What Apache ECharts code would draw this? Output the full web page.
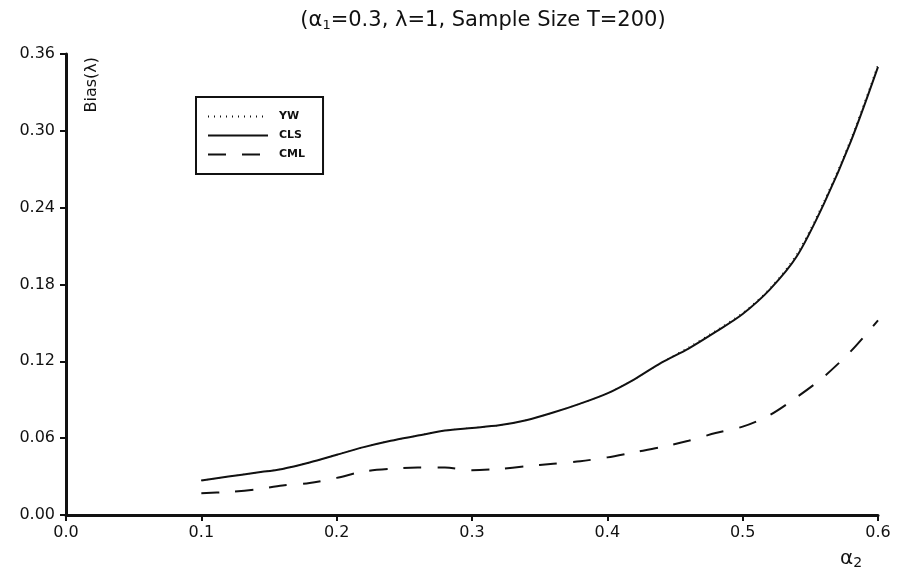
<!DOCTYPE html>
<html>
<head>
<meta charset="utf-8">
<script src="https://cdn.jsdelivr.net/npm/echarts@6/dist/echarts.min.js"></script>
<style>
  html, body { margin: 0; padding: 0; background: #fff; }
  #chart { width: 899px; height: 576px; }
</style>
</head>
<body>
<div id="chart"></div>
<script>
  // alpha_2 grid where the curves were read
  var alpha2 = [0.10, 0.12, 0.14, 0.16, 0.18, 0.20, 0.22, 0.24, 0.26, 0.28, 0.30, 0.32, 0.34,
                0.36, 0.38, 0.40, 0.42, 0.44, 0.46, 0.48, 0.50, 0.52, 0.54, 0.56, 0.58, 0.60]
  var ywBias  = [0.027, 0.030, 0.033, 0.036, 0.041, 0.047, 0.053, 0.058, 0.062, 0.066, 0.068, 0.070, 0.074,
                 0.080, 0.087, 0.095, 0.106, 0.119, 0.131, 0.144, 0.158, 0.177, 0.204, 0.245, 0.294, 0.352]
  var clsBias = [0.027, 0.030, 0.033, 0.036, 0.041, 0.047, 0.053, 0.058, 0.062, 0.066, 0.068, 0.070, 0.074,
                 0.080, 0.087, 0.095, 0.106, 0.119, 0.130, 0.143, 0.157, 0.176, 0.202, 0.243, 0.292, 0.350]
  var cmlBias = [0.017, 0.018, 0.020, 0.023, 0.025, 0.029, 0.034, 0.036, 0.037, 0.037, 0.035, 0.036, 0.038,
                 0.040, 0.042, 0.045, 0.049, 0.053, 0.058, 0.064, 0.069, 0.078, 0.092, 0.108, 0.128, 0.152]
  var xTicks = ['0.0', '0.1', '0.2', '0.3', '0.4', '0.5', '0.6']
  var yTicks = ['0.00', '0.06', '0.12', '0.18', '0.24', '0.30', '0.36']

  function pairs(ys) {
    return alpha2.map(function (x, i) { return [x, ys[i]] })
  }

  var font = 'DejaVu Sans'
  var chart = echarts.init(document.getElementById('chart'))

  var option = {
    backgroundColor: '#fff',
    animation: false,
    title: {
      text: '{t|(α}{s|1}{t|=0.3, λ=1, Sample Size T=200)}',
      left: 478,
      top: 5,
      textAlign: 'center',
      textStyle: {
        rich: {
          t: { fontFamily: font, fontSize: 21, color: '#111', fontWeight: 'normal' },
          s: { fontFamily: font, fontSize: 13, color: '#111', fontWeight: 'normal', padding: [9, 0, 0, 0] }
        }
      }
    },
    legend: {
      orient: 'vertical',
      left: 196,
      top: 97,
      padding: [14, 18, 14, 11],
      itemGap: 8,
      itemWidth: 60,
      itemHeight: 10,
      borderColor: '#111',
      borderWidth: 2,
      itemStyle: { opacity: 0 },
      textStyle: { fontFamily: font, fontSize: 11, fontWeight: 'bold', color: '#111', padding: [0, 0, 0, 6] },
      data: ['YW', 'CLS', 'CML']
    },
    grid: { left: 66, right: 21, top: 54, bottom: 61 },
    xAxis: {
      type: 'value',
      min: 0,
      max: 0.6,
      interval: 0.1,
      splitLine: { show: false },
      axisLine: { lineStyle: { color: '#111', width: 3 } },
      axisTick: { length: 6, lineStyle: { color: '#111', width: 2 } },
      axisLabel: {
        margin: 10,
        fontFamily: font,
        fontSize: 16,
        color: '#111',
        formatter: function (v) { return xTicks[Math.round(v * 10)] }
      }
    },
    yAxis: {
      type: 'value',
      min: 0,
      max: 0.36,
      interval: 0.06,
      splitLine: { show: false },
      axisLine: { show: true, lineStyle: { color: '#111', width: 3 } },
      axisTick: { show: true, length: 6, lineStyle: { color: '#111', width: 2 } },
      axisLabel: {
        margin: 11,
        fontFamily: font,
        fontSize: 16,
        color: '#111',
        formatter: function (v) { return yTicks[Math.round(v / 0.06)] }
      }
    },
    graphic: [
      {
        type: 'text',
        left: 84,
        top: 57,
        rotation: Math.PI / 2,
        style: { text: 'Bias(λ)', font: '16px "DejaVu Sans"', fill: '#111' }
      },
      {
        type: 'text',
        left: 840,
        top: 549,
        style: {
          text: '{a|α}{s|2}',
          rich: {
            a: { fontFamily: font, fontSize: 20, fill: '#111' },
            s: { fontFamily: font, fontSize: 14, fill: '#111', padding: [8, 0, 0, 0] }
          }
        }
      }
    ],
    series: [
      {
        name: 'YW',
        type: 'line',
        symbol: 'none',
        smooth: 0.3,
        data: pairs(ywBias),
        lineStyle: { color: '#111', width: 1.2, type: [1, 5] },
        z: 3
      },
      {
        name: 'CLS',
        type: 'line',
        symbol: 'none',
        smooth: 0.3,
        data: pairs(clsBias),
        lineStyle: { color: '#111', width: 2 },
        z: 2
      },
      {
        name: 'CML',
        type: 'line',
        symbol: 'none',
        smooth: 0.3,
        data: pairs(cmlBias),
        lineStyle: { color: '#111', width: 2, type: [18, 16] },
        z: 2
      }
    ]
  }

  chart.setOption(option)
</script>
</body>
</html>
